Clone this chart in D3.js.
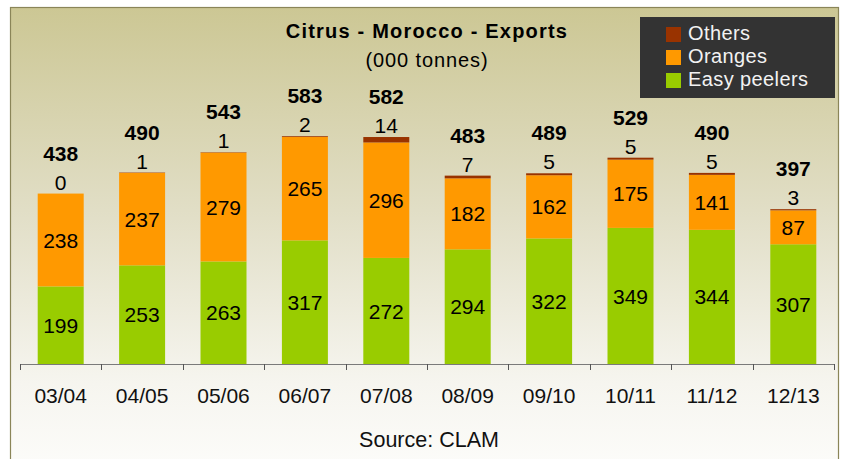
<!DOCTYPE html>
<html>
<head>
<meta charset="utf-8">
<script src="https://cdn.jsdelivr.net/npm/d3@7"></script>
<style>
  body { margin: 0; background: #fff; }
  svg { display: block; font-family: "Liberation Sans", Arial, sans-serif; }
</style>
</head>
<body>
<div id="chart"></div>
<script>
// values (000 tonnes)
var seasons = ["03/04", "04/05", "05/06", "06/07", "07/08", "08/09", "09/10", "10/11", "11/12", "12/13"];
var easyPeelers = [199, 253, 263, 317, 272, 294, 322, 349, 344, 307];
var oranges = [238, 237, 279, 265, 296, 182, 162, 175, 141, 87];
var others = [0, 1, 1, 2, 14, 7, 5, 5, 5, 3];
var totals = [438, 490, 543, 583, 582, 483, 489, 529, 490, 397];

var seriesNames = ["Easy peelers", "Oranges", "Others"];
var colors = ["#99cc00", "#ff9900", "#993300"];

var W = 845, H = 459;
var plot = { left: 20, right: 834, base: 364, top: 91 };
var FONT = "'Liberation Sans', Arial, sans-serif";

var svg = d3.select("#chart").append("svg")
    .attr("width", W)
    .attr("height", H);

// background panel with vertical gradient
var grad = svg.append("defs").append("linearGradient")
    .attr("id", "bg")
    .attr("x1", 0).attr("y1", 0).attr("x2", 0).attr("y2", 1);
grad.append("stop").attr("offset", "0%").attr("stop-color", "#ccc794");
grad.append("stop").attr("offset", "45%").attr("stop-color", "#e2dfc8");
grad.append("stop").attr("offset", "80%").attr("stop-color", "#f6f5ef");
grad.append("stop").attr("offset", "100%").attr("stop-color", "#fdfdfb");

svg.append("rect")
    .attr("x", 10.5).attr("y", 7.5)
    .attr("width", 828).attr("height", 470)
    .attr("fill", "url(#bg)")
    .attr("stroke", "#8a8558")
    .attr("stroke-width", 1.2);

// scales
var x = d3.scaleBand()
    .domain(seasons)
    .range([plot.left, plot.right])
    .paddingInner(0.435)
    .paddingOuter(0.2175);

var y = d3.scaleLinear()
    .domain([0, 700])
    .range([plot.base, plot.top]);

// stacked data
var rows = seasons.map(function (s, i) {
  return { season: s, "Easy peelers": easyPeelers[i], "Oranges": oranges[i], "Others": others[i], total: totals[i] };
});
var stack = d3.stack().keys(seriesNames)(rows);

var layers = svg.selectAll(".layer")
    .data(stack)
    .enter().append("g")
    .attr("class", "layer")
    .attr("fill", function (d, i) { return colors[i]; });

layers.selectAll("rect")
    .data(function (d) { return d; })
    .enter().append("rect")
    .attr("x", function (d) { return x(d.data.season); })
    .attr("y", function (d) { return y(d[1]); })
    .attr("width", x.bandwidth())
    .attr("height", function (d) { return y(d[0]) - y(d[1]); });

// labels inside the two big segments
stack.slice(0, 2).forEach(function (layer) {
  svg.append("g").selectAll("text")
      .data(layer)
      .enter().append("text")
      .attr("x", function (d) { return x(d.data.season) + x.bandwidth() / 2; })
      .attr("y", function (d) { return (y(d[0]) + y(d[1])) / 2; })
      .attr("dy", "0.36em")
      .attr("text-anchor", "middle")
      .attr("font-size", 21)
      .attr("fill", "#000")
      .text(function (d) { return d.data[layer.key]; });
});

// "Others" labels sit just above the bar
svg.append("g").selectAll("text")
    .data(stack[2])
    .enter().append("text")
    .attr("x", function (d) { return x(d.data.season) + x.bandwidth() / 2; })
    .attr("y", function (d) { return y(d[1]) - 4; })
    .attr("text-anchor", "middle")
    .attr("font-size", 21)
    .attr("fill", "#000")
    .text(function (d) { return d.data.Others; });

// totals, bold, higher up
svg.append("g").selectAll("text")
    .data(rows)
    .enter().append("text")
    .attr("x", function (d) { return x(d.season) + x.bandwidth() / 2; })
    .attr("y", function (d, i) { return y(stack[2][i][1]) - 33; })
    .attr("text-anchor", "middle")
    .attr("font-size", 21)
    .attr("font-weight", "bold")
    .attr("fill", "#000")
    .text(function (d) { return d.total; });

// x axis: labels from d3 axis, ticks on the band boundaries
var gx = svg.append("g")
    .attr("transform", "translate(0," + plot.base + ")")
    .call(d3.axisBottom(x).tickSize(0).tickPadding(24));
gx.select(".domain").remove();
gx.selectAll("text")
    .attr("font-size", 21)
    .attr("font-family", FONT)
    .attr("fill", "#111");

var bounds = d3.range(seasons.length + 1).map(function (i) { return plot.left + i * x.step(); });
svg.append("line")
    .attr("x1", plot.left).attr("x2", plot.right)
    .attr("y1", plot.base + 0.5).attr("y2", plot.base + 0.5)
    .attr("stroke", "#7a7a7a");
svg.append("g").selectAll("line")
    .data(bounds)
    .enter().append("line")
    .attr("x1", function (d) { return Math.round(d) + 0.5; })
    .attr("x2", function (d) { return Math.round(d) + 0.5; })
    .attr("y1", plot.base)
    .attr("y2", plot.base + 6)
    .attr("stroke", "#555");

// titles
svg.append("text")
    .attr("x", 427).attr("y", 38)
    .attr("text-anchor", "middle")
    .attr("font-size", 20)
    .attr("font-weight", "bold")
    .attr("letter-spacing", 1.2)
    .text("Citrus - Morocco - Exports");
svg.append("text")
    .attr("x", 427).attr("y", 67)
    .attr("text-anchor", "middle")
    .attr("font-size", 20)
    .attr("letter-spacing", 0.9)
    .text("(000 tonnes)");
svg.append("text")
    .attr("x", 429).attr("y", 447)
    .attr("text-anchor", "middle")
    .attr("font-size", 21.5)
    .attr("fill", "#111")
    .text("Source: CLAM");

// legend
var legend = svg.append("g");
legend.append("rect")
    .attr("x", 640).attr("y", 17)
    .attr("width", 195).attr("height", 81)
    .attr("fill", "#333333");
var legendOrder = [2, 1, 0];
legendOrder.forEach(function (si, j) {
  var ly = 27 + j * 23;
  legend.append("rect")
      .attr("x", 666).attr("y", ly)
      .attr("width", 15).attr("height", 15)
      .attr("fill", colors[si]);
  legend.append("text")
      .attr("x", 688).attr("y", ly + 13)
      .attr("font-size", 20)
      .attr("fill", "#f2f2f2")
      .attr("letter-spacing", 0.4)
      .text(seriesNames[si]);
});
</script>
</body>
</html>
